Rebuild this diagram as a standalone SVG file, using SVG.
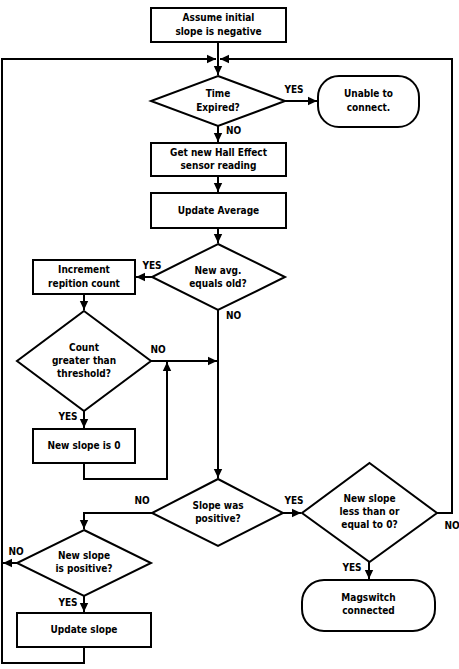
<svg xmlns="http://www.w3.org/2000/svg" width="459" height="669" viewBox="0 0 459 669">
<style>
.s{fill:#fff;stroke:#000;stroke-width:2}
.c{fill:none;stroke:#000;stroke-width:2}
text{font-family:"DejaVu Sans Condensed","DejaVu Sans",sans-serif;font-stretch:condensed;font-weight:bold;font-size:10px;fill:#000}
.m{text-anchor:middle}
</style>
<defs>
<marker id="a" markerUnits="userSpaceOnUse" markerWidth="10" markerHeight="10" refX="9" refY="5" orient="auto">
<path d="M0,0.8 L9,5 L0,9.2 Z" fill="#000"/>
</marker>
</defs>
<rect width="459" height="669" fill="#fff"/>
<g id="connectors">
<path class="c" d="M218,42 V75" marker-end="url(#a)"/>
<path class="c" d="M84,647 V663 H2 V59 H216" marker-end="url(#a)"/>
<path class="c" d="M437,513 H452 V59 H220" marker-end="url(#a)"/>
<path class="c" d="M285,101 H317" marker-end="url(#a)"/>
<path class="c" d="M218,126 V142" marker-end="url(#a)"/>
<path class="c" d="M218,176 V192" marker-end="url(#a)"/>
<path class="c" d="M218,228 V243" marker-end="url(#a)"/>
<path class="c" d="M152,277 H136" marker-end="url(#a)"/>
<path class="c" d="M84,294 V310" marker-end="url(#a)"/>
<path class="c" d="M151,361 H217" marker-end="url(#a)"/>
<path class="c" d="M84,411 V428" marker-end="url(#a)"/>
<path class="c" d="M84,463 V479 H167 V362" marker-end="url(#a)"/>
<path class="c" d="M218,310 V478" marker-end="url(#a)"/>
<path class="c" d="M152,513 H84 V529" marker-end="url(#a)"/>
<path class="c" d="M283,513 H301" marker-end="url(#a)"/>
<path class="c" d="M17,563 H3" marker-end="url(#a)"/>
<path class="c" d="M84,596 V612" marker-end="url(#a)"/>
<path class="c" d="M369,562 V579" marker-end="url(#a)"/>
<text x="294" y="93" class="m">YES</text>
<text x="226" y="134">NO</text>
<text x="152" y="269" class="m">YES</text>
<text x="226" y="319">NO</text>
<text x="158" y="353" class="m">NO</text>
<text x="68" y="420" class="m">YES</text>
<text x="142" y="504" class="m">NO</text>
<text x="294" y="504" class="m">YES</text>
<text x="16" y="555" class="m">NO</text>
<text x="68" y="606" class="m">YES</text>
<text x="452" y="529" class="m">NO</text>
<text x="352" y="571" class="m">YES</text>
</g>
<g id="start">
<rect class="s" x="151" y="8" width="135" height="34"/>
<text x="218.5" y="21" class="m">Assume initial</text>
<text x="218.5" y="35" class="m">slope is negative</text>
</g>
<g id="time">
<path class="s" d="M218,76 L285,101 L218,126 L151,101 Z"/>
<text x="218" y="97" class="m">Time</text>
<text x="218" y="111" class="m">Expired?</text>
</g>
<g id="unable">
<rect class="s" x="318" y="76" width="101" height="51" rx="21" ry="21"/>
<text x="368.5" y="97" class="m">Unable to</text>
<text x="368.5" y="111" class="m">connect.</text>
</g>
<g id="read">
<rect class="s" x="151" y="143" width="135" height="33"/>
<text x="218.5" y="156" class="m">Get new Hall Effect</text>
<text x="218.5" y="169" class="m">sensor reading</text>
</g>
<g id="avg">
<rect class="s" x="151" y="193" width="135" height="35"/>
<text x="218.5" y="214" class="m">Update Average</text>
</g>
<g id="equals">
<path class="s" d="M218,244 L285,277 L218,310 L152,277 Z"/>
<text x="218" y="274" class="m">New avg.</text>
<text x="218" y="287" class="m">equals old?</text>
</g>
<g id="increment">
<rect class="s" x="33" y="260" width="102" height="34"/>
<text x="84" y="273" class="m">Increment</text>
<text x="84" y="287" class="m">repition count</text>
</g>
<g id="count">
<path class="s" d="M84,311 L151,361 L84,411 L17,361 Z"/>
<text x="84" y="351" class="m">Count</text>
<text x="84" y="364" class="m">greater than</text>
<text x="84" y="377" class="m">threshold?</text>
</g>
<g id="zero">
<rect class="s" x="33" y="429" width="102" height="34"/>
<text x="84" y="449" class="m">New slope is 0</text>
</g>
<g id="waspos">
<path class="s" d="M218,479 L283,513 L218,546 L152,513 Z"/>
<text x="218" y="509" class="m">Slope was</text>
<text x="218" y="522" class="m">positive?</text>
</g>
<g id="ispos">
<path class="s" d="M84,530 L151,563 L84,596 L17,563 Z"/>
<text x="84" y="559" class="m">New slope</text>
<text x="84" y="572" class="m">is positive?</text>
</g>
<g id="update">
<rect class="s" x="17" y="613" width="134" height="34"/>
<text x="84" y="633" class="m">Update slope</text>
</g>
<g id="lesseq">
<path class="s" d="M369.5,463 L437,513 L369.5,562 L302,513 Z"/>
<text x="369.5" y="502" class="m">New slope</text>
<text x="369.5" y="515" class="m">less than or</text>
<text x="369.5" y="528" class="m">equal to 0?</text>
</g>
<g id="connected">
<rect class="s" x="302" y="580" width="133" height="51" rx="22" ry="22"/>
<text x="368.5" y="601" class="m">Magswitch</text>
<text x="368.5" y="614" class="m">connected</text>
</g>
</svg>
